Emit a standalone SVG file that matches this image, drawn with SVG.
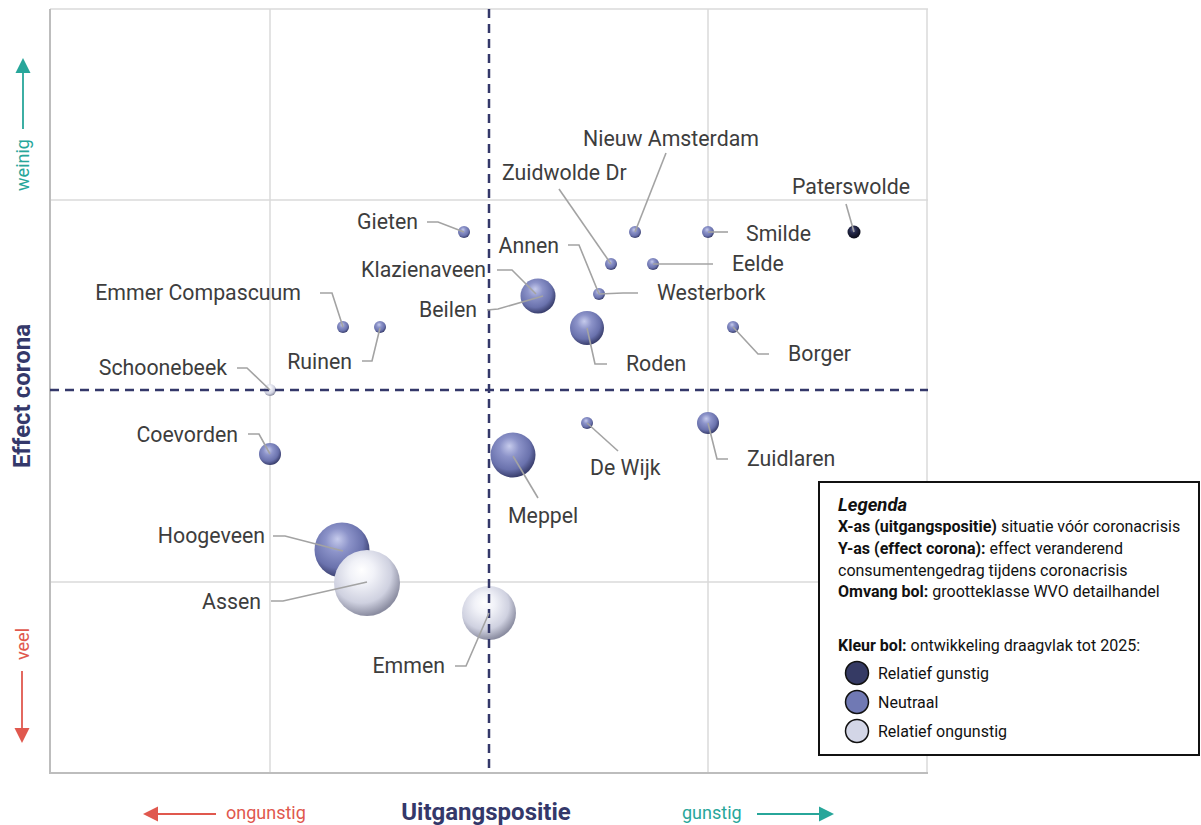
<svg xmlns="http://www.w3.org/2000/svg" width="1201" height="825" viewBox="0 0 1201 825">
<style>
.grid{stroke:#dadada;stroke-width:1.5;fill:none}
.axis{stroke:#bdbdbd;stroke-width:2;fill:none}
.quad{stroke:#34386a;stroke-width:2.5;stroke-dasharray:9 6;fill:none}
.lead{stroke:#a3a3a3;stroke-width:1.6;fill:none}
.lbl{font-family:Roboto,"Liberation Sans",sans-serif;font-size:21.3px;fill:#3d3d3d}
.leg{font-family:Roboto,"Liberation Sans",sans-serif;font-size:16px;fill:#111}
.legb{font-weight:bold}
.ax{font-family:Roboto,"Liberation Sans",sans-serif;font-size:24px;font-weight:bold;fill:#34386a}
.dir{font-family:Roboto,"Liberation Sans",sans-serif;font-size:18px}
.teal{fill:#27a69a}
.red{fill:#e0584e}
</style>
<defs>
<radialGradient id="gN" cx="0.42" cy="0.38" r="0.62" fx="0.42" fy="0.3">
<stop offset="0" stop-color="#c6cbec"/>
<stop offset="0.35" stop-color="#8c93c9"/>
<stop offset="0.75" stop-color="#6a72ad"/>
<stop offset="1" stop-color="#3a3f6e"/>
</radialGradient>
<radialGradient id="gL" cx="0.42" cy="0.38" r="0.62" fx="0.42" fy="0.3">
<stop offset="0" stop-color="#ffffff"/>
<stop offset="0.3" stop-color="#f1f2f8"/>
<stop offset="0.72" stop-color="#cfd1e0"/>
<stop offset="1" stop-color="#8b8da1"/>
</radialGradient>
<radialGradient id="gD" cx="0.42" cy="0.38" r="0.62" fx="0.42" fy="0.3">
<stop offset="0" stop-color="#5a5f8f"/>
<stop offset="0.4" stop-color="#25294b"/>
<stop offset="1" stop-color="#0b0c18"/>
</radialGradient>
</defs>
<rect x="0" y="0" width="1201" height="825" fill="#ffffff"/>
<g id="grid">
<line class="grid" x1="50" y1="9" x2="928" y2="9"/>
<line class="grid" x1="50" y1="200" x2="928" y2="200"/>
<line class="grid" x1="50" y1="582" x2="928" y2="582"/>
<line class="grid" x1="270" y1="9" x2="270" y2="773"/>
<line class="grid" x1="708" y1="9" x2="708" y2="773"/>
<line class="grid" x1="927" y1="9" x2="927" y2="773"/>
<line class="axis" x1="50" y1="9" x2="50" y2="774"/>
<line class="axis" x1="49" y1="773" x2="928" y2="773"/>
</g>
<g id="nodes">
<g id="hoogeveen"><circle cx="342" cy="550" r="27.5" fill="url(#gN)"/><text class="lbl" x="265" y="543" text-anchor="end">Hoogeveen</text></g>
<g id="assen"><circle cx="367" cy="583" r="33" fill="url(#gL)"/><text class="lbl" x="261" y="609" text-anchor="end">Assen</text></g>
<g id="emmen"><circle cx="489" cy="613" r="27" fill="url(#gL)"/><text class="lbl" x="445" y="673" text-anchor="end">Emmen</text></g>
<g id="meppel"><circle cx="513" cy="455" r="22.5" fill="url(#gN)"/><text class="lbl" x="508" y="523">Meppel</text></g>
<g id="coevorden"><circle cx="270" cy="454" r="11" fill="url(#gN)"/><text class="lbl" x="238" y="442" text-anchor="end">Coevorden</text></g>
<g id="schoonebeek"><circle cx="270" cy="390" r="6" fill="url(#gL)"/><text class="lbl" x="227" y="375" text-anchor="end">Schoonebeek</text></g>
<g id="emmercompascuum"><circle cx="343" cy="327" r="6" fill="url(#gN)"/><text class="lbl" x="301" y="300" text-anchor="end">Emmer Compascuum</text></g>
<g id="ruinen"><circle cx="380" cy="327" r="6" fill="url(#gN)"/><text class="lbl" x="352" y="369" text-anchor="end">Ruinen</text></g>
<g id="gieten"><circle cx="464" cy="232" r="6" fill="url(#gN)"/><text class="lbl" x="418" y="229" text-anchor="end">Gieten</text></g>
<g id="klazienaveen"><circle cx="538" cy="296" r="17.5" fill="url(#gN)"/><text class="lbl" x="486" y="277" text-anchor="end">Klazienaveen</text></g>
<g id="beilen"><text class="lbl" x="477" y="317" text-anchor="end">Beilen</text></g>
<g id="roden"><circle cx="587" cy="328" r="17" fill="url(#gN)"/><text class="lbl" x="626" y="371">Roden</text></g>
<g id="annen"><text class="lbl" x="559" y="253" text-anchor="end">Annen</text></g>
<g id="westerbork"><circle cx="599" cy="294" r="6" fill="url(#gN)"/><text class="lbl" x="657" y="300">Westerbork</text></g>
<g id="zuidwoldedr"><circle cx="611" cy="264" r="6" fill="url(#gN)"/><text class="lbl" x="502" y="180">Zuidwolde Dr</text></g>
<g id="nieuwamsterdam"><circle cx="635" cy="232" r="6" fill="url(#gN)"/><text class="lbl" x="671" y="146" text-anchor="middle">Nieuw Amsterdam</text></g>
<g id="eelde"><circle cx="653" cy="264" r="6" fill="url(#gN)"/><text class="lbl" x="732" y="271">Eelde</text></g>
<g id="smilde"><circle cx="708" cy="232" r="6" fill="url(#gN)"/><text class="lbl" x="746" y="241">Smilde</text></g>
<g id="paterswolde"><circle cx="854" cy="232" r="6.5" fill="url(#gD)"/><text class="lbl" x="851" y="194" text-anchor="middle">Paterswolde</text></g>
<g id="borger"><circle cx="733" cy="327" r="6" fill="url(#gN)"/><text class="lbl" x="788" y="361">Borger</text></g>
<g id="dewijk"><circle cx="587" cy="423" r="6" fill="url(#gN)"/><text class="lbl" x="590" y="475">De Wijk</text></g>
<g id="zuidlaren"><circle cx="708" cy="423" r="11" fill="url(#gN)"/><text class="lbl" x="747" y="466">Zuidlaren</text></g>
</g>
<g id="quadrants">
<line class="quad" x1="489" y1="9" x2="489" y2="773"/>
<line class="quad" x1="50" y1="390" x2="928" y2="390"/>
</g>
<g id="connectors">
<polyline class="lead" points="666,153 635,232"/>
<polyline class="lead" points="559,189 611,264"/>
<polyline class="lead" points="846,204 854,232"/>
<polyline class="lead" points="708,232 728,232"/>
<polyline class="lead" points="653,264 713,264"/>
<polyline class="lead" points="568,245 579,245 599,294"/>
<polyline class="lead" points="599,294 623,293 638,293"/>
<polyline class="lead" points="497,270 512,270 536,294"/>
<polyline class="lead" points="487,310 498,309 543,296"/>
<polyline class="lead" points="587,328 595,364 607,364"/>
<polyline class="lead" points="733,327 758,354 769,354"/>
<polyline class="lead" points="427,222 438,222 464,232"/>
<polyline class="lead" points="320,293 332,293 343,327"/>
<polyline class="lead" points="380,328 372,361 362,361"/>
<polyline class="lead" points="237,368 247,368 270,390"/>
<polyline class="lead" points="248,434 259,434 270,454"/>
<polyline class="lead" points="273,536 285,536 343,551"/>
<polyline class="lead" points="271,601 283,601 367,582"/>
<polyline class="lead" points="455,666 466,666 489,613"/>
<polyline class="lead" points="513,456 538,498"/>
<polyline class="lead" points="587,423 618,451"/>
<polyline class="lead" points="708,423 717,459 728,459"/>
</g>
<g id="axes">
<text class="ax" transform="translate(30,396) rotate(-90)" text-anchor="middle">Effect corona</text>
<text class="ax" x="486" y="820" text-anchor="middle">Uitgangspositie</text>
<text class="dir teal" transform="translate(29,165) rotate(-90)" text-anchor="middle">weinig</text>
<line x1="23" y1="129" x2="23" y2="72" stroke="#27a69a" stroke-width="1.8"/>
<polygon class="teal" points="23,58 15.5,73 30.5,73"/>
<text class="dir red" transform="translate(29,644) rotate(-90)" text-anchor="middle">veel</text>
<line x1="22" y1="671" x2="22" y2="729" stroke="#e0584e" stroke-width="1.8"/>
<polygon class="red" points="22,743 14.5,728 29.5,728"/>
<text class="dir red" x="226" y="819">ongunstig</text>
<line x1="216" y1="814" x2="157" y2="814" stroke="#e0584e" stroke-width="1.8"/>
<polygon class="red" points="143,814 158,806.5 158,821.5"/>
<text class="dir teal" x="682" y="819">gunstig</text>
<line x1="757" y1="814" x2="820" y2="814" stroke="#27a69a" stroke-width="1.8"/>
<polygon class="teal" points="834,814 819,806.5 819,821.5"/>
</g>
<g id="legend">
<rect x="819" y="482" width="380" height="273" fill="#ffffff" stroke="#111" stroke-width="2"/>
<text class="leg" x="838" y="511" font-weight="bold" font-style="italic" font-size="18.5px" style="font-size:18.5px">Legenda</text>
<text class="leg" x="838" y="532"><tspan class="legb">X-as (uitgangspositie)</tspan> situatie vóór coronacrisis</text>
<text class="leg" x="838" y="554"><tspan class="legb">Y-as (effect corona):</tspan> effect veranderend</text>
<text class="leg" x="838" y="576">consumentengedrag tijdens coronacrisis</text>
<text class="leg" x="838" y="597"><tspan class="legb">Omvang bol:</tspan> grootteklasse WVO detailhandel</text>
<text class="leg" x="838" y="651"><tspan class="legb">Kleur bol:</tspan> ontwikkeling draagvlak tot 2025:</text>
<circle cx="857" cy="673" r="11.5" fill="#353a64" stroke="#111" stroke-width="1.5"/>
<text class="leg" x="878" y="679">Relatief gunstig</text>
<circle cx="857" cy="702" r="11.5" fill="#7079b4" stroke="#111" stroke-width="1.5"/>
<text class="leg" x="878" y="708">Neutraal</text>
<circle cx="857" cy="731" r="11.5" fill="#d3d6e7" stroke="#111" stroke-width="1.5"/>
<text class="leg" x="878" y="737">Relatief ongunstig</text>
</g>
</svg>
